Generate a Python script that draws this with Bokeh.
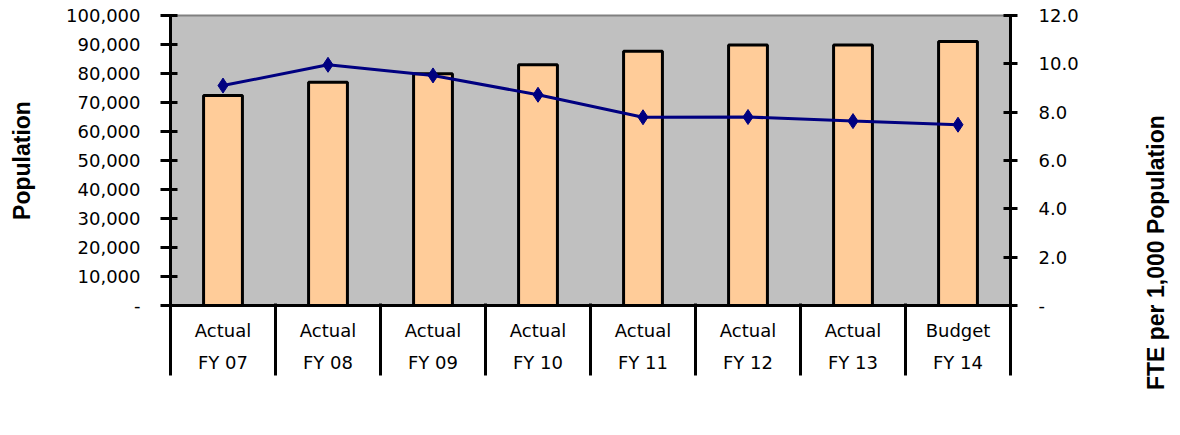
import math
from bokeh.plotting import figure
from bokeh.models import (Range1d, LinearAxis, FixedTicker, NumeralTickFormatter,
                          Legend, LegendItem)
from bokeh.embed import file_html
from bokeh.resources import INLINE

status = ["Actual", "Actual", "Actual", "Actual", "Actual", "Actual", "Actual", "Budget"]
years = ["FY 07", "FY 08", "FY 09", "FY 10", "FY 11", "FY 12", "FY 13", "FY 14"]
population = [72400, 77000, 79900, 83000, 87700, 89800, 89800, 91000]
employees_per_1000 = [9.10, 9.96, 9.52, 8.72, 7.79, 7.80, 7.63, 7.48]
left_ticks = [0, 10000, 20000, 30000, 40000, 50000, 60000, 70000, 80000, 90000, 100000]
right_ticks = [0, 2, 4, 6, 8, 10, 12]

n = len(years)
centers = [i + 0.5 for i in range(n)]
bounds = list(range(n + 1))
labels = {c: f"{s}\n{y}" for c, s, y in zip(centers, status, years)}

TICK_FONT = "DejaVu Sans"

p = figure(frame_width=840, frame_height=290, output_backend="svg", toolbar_location=None,
           x_range=Range1d(0, n), y_range=Range1d(0, 100000),
           min_border_left=170, min_border_right=150, min_border_top=15,
           min_border_bottom=100, x_axis_location=None, y_axis_location=None)
p.extra_y_ranges = {"fte": Range1d(0, 12)}
p.background_fill_color = "#C0C0C0"
p.border_fill_color = "white"
p.outline_line_color = "#808080"
p.outline_line_width = 2
p.xgrid.visible = False
p.ygrid.visible = False

# left axis
ly = LinearAxis(ticker=FixedTicker(ticks=left_ticks),
                formatter=NumeralTickFormatter(format="0,0"),
                major_label_overrides={0: "-"},
                axis_label="Population")
ly.axis_line_width = 3
ly.major_tick_line_width = 3
ly.major_tick_in = 7
ly.major_tick_out = 10
ly.minor_tick_line_color = None
ly.major_label_standoff = 20
ly.major_label_text_font = TICK_FONT
ly.major_label_text_font_size = "18px"
ly.major_label_text_color = "black"
ly.axis_label_text_font = "Liberation Sans"
ly.axis_label_text_font_style = "bold"
ly.axis_label_text_font_size = "23px"
ly.axis_label_text_color = "black"
ly.axis_label_standoff = 28
p.add_layout(ly, "left")

# right axis
ry = LinearAxis(y_range_name="fte", ticker=FixedTicker(ticks=right_ticks),
                formatter=NumeralTickFormatter(format="0.0"),
                major_label_overrides={0: "-"})
ry.axis_line_width = 3
ry.major_tick_line_width = 3
ry.major_tick_in = 7
ry.major_tick_out = 7
ry.minor_tick_line_color = None
ry.major_label_standoff = 21
ry.major_label_text_font = TICK_FONT
ry.major_label_text_font_size = "18px"
ry.major_label_text_color = "black"
p.add_layout(ry, "right")

# right title as a rotated label of an otherwise invisible axis
rt = LinearAxis(y_range_name="fte", ticker=FixedTicker(ticks=[6]),
                major_label_overrides={6: "FTE per 1,000 Population"},
                major_label_orientation=math.pi / 2)
rt.axis_line_color = None
rt.major_tick_line_color = None
rt.minor_tick_line_color = None
rt.major_tick_out = 0
rt.major_tick_in = 0
rt.major_label_standoff = 75
rt.major_label_text_font = "Liberation Sans"
rt.major_label_text_font_style = "bold"
rt.major_label_text_font_size = "23px"
rt.major_label_text_color = "black"
p.add_layout(rt, "right")

# bottom category axis
bx = LinearAxis(ticker=FixedTicker(ticks=centers, minor_ticks=bounds),
                major_label_overrides=labels)
bx.axis_line_width = 3
bx.major_tick_line_color = None
bx.major_tick_out = 0
bx.major_tick_in = 0
bx.minor_tick_line_width = 3
bx.minor_tick_line_color = "black"
bx.minor_tick_out = 70
bx.minor_tick_in = 2
bx.major_label_standoff = -56
bx.major_label_text_font = TICK_FONT
bx.major_label_text_font_size = "18px"
bx.major_label_text_color = "black"
bx.major_label_text_line_height = 1.55
p.add_layout(bx, "below")

bars = p.vbar(x=centers, top=population, width=0.37, fill_color="#FFCC99",
              line_color="black", line_width=3)
line = p.line(x=centers, y=employees_per_1000, y_range_name="fte",
              line_color="#000080", line_width=3)
pts = p.scatter(x=centers, y=employees_per_1000, y_range_name="fte",
                marker="diamond", size=15, fill_color="#000080", line_color="#000080")

legend = Legend(items=[LegendItem(label="Population**", renderers=[bars]),
                       LegendItem(label="Employees per 1000", renderers=[line, pts])],
                orientation="horizontal", location="center",
                glyph_width=58, glyph_height=8, label_standoff=5, spacing=291,
                padding=4, margin=0, border_line_color=None,
                background_fill_alpha=0,
                label_text_font=TICK_FONT, label_text_font_size="15px")
p.add_layout(legend, "below")

open("out.html", "w").write(file_html(p, INLINE))
